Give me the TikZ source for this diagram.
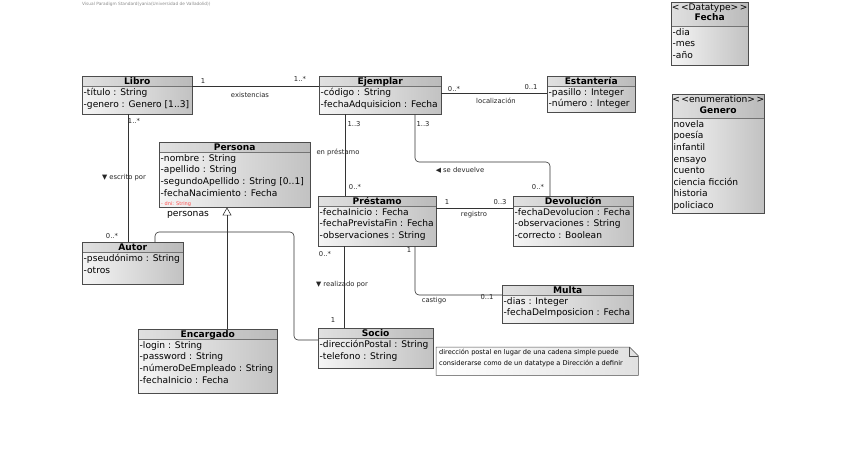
\documentclass[tikz,border=0pt]{standalone}
\usepackage{fontspec}
\setmainfont{DejaVu Sans}
\usetikzlibrary{arrows.meta,calc}

\tikzset{
  classfill/.style={left color=black!4, right color=black!24, draw=none, inner sep=0pt},
  headfill/.style={fill=black!35, fill opacity=0.25},
  border/.style={draw=black!70, line width=0.7pt},
  sepline/.style={draw=black!55, line width=0.5pt},
  titletext/.style={font=\fontsize{9.1}{10.8}\selectfont\bfseries, inner xsep=0pt, inner ysep=1.3pt, align=center},
  attrtext/.style={font=\fontsize{9.1}{11.6}\selectfont, inner xsep=1.5pt, inner ysep=2.2pt, align=left},
  assoc/.style={draw=black!80, line width=0.6pt, rounded corners=4pt},
  genline/.style={draw=black!80, line width=0.6pt, -{Triangle[open, length=8pt, width=9pt]}},
  lbl/.style={font=\fontsize{6.8}{8}\selectfont, inner sep=0pt, text=black!85},
  notetext/.style={font=\fontsize{6.6}{10.8}\selectfont, inner sep=0pt, align=left, anchor=north west},
}

\newcommand{\umlclass}[8]{%
  \node[classfill, minimum width=#4pt, minimum height=#5pt, anchor=north west] (#1) at (#2,#3) {};
  \fill[headfill] (#1.north west) rectangle ([yshift=-#6pt]#1.north east);
  \draw[sepline] ([yshift=-#6pt]#1.north west) -- ([yshift=-#6pt]#1.north east);
  \node[titletext, anchor=north] (#1-t) at (#1.north) {#7};
  \node[attrtext, anchor=north west] (#1-a) at ([yshift=-#6pt]#1.north west) {#8};
  \draw[border] (#1.north west) rectangle (#1.south east);
}

\begin{document}
\begin{tikzpicture}[x=1pt,y=-1pt]
\fill[white] (0,0) rectangle (848,468);
\useasboundingbox (0,0) rectangle (848,468);

\node[font=\fontsize{4.3}{5}\selectfont, text=black!45, anchor=west, inner sep=0pt] (vp) at (82,4) {Visual Paradigm Standard(yania(Universidad de Valladolid))};

\umlclass{libro}{82}{76}{110}{38}{10}{Libro}{-título : String\\-genero : Genero [1..3]}
\umlclass{ejemplar}{319}{76}{122}{38}{10}{Ejemplar}{-código : String\\-fechaAdquisicion : Fecha}
\umlclass{estanteria}{547}{76}{88}{36}{10}{Estantería}{-pasillo : Integer\\-número : Integer}
\umlclass{fecha}{671}{2}{77}{63}{24}{{\mdseries <\,<Datatype>\,>}\\Fecha}{-dia\\-mes\\-año}
\umlclass{genero}{672}{94}{92}{119}{24}{{\mdseries <\,<enumeration>\,>}\\Genero}{novela\\poesía\\infantil\\ensayo\\cuento\\ciencia ficción\\historia\\policiaco}
\umlclass{persona}{159}{142}{151}{65}{10}{Persona}{-nombre : String\\-apellido : String\\-segundoApellido : String [0..1]\\-fechaNacimiento : Fecha}
\node[font=\fontsize{5}{5}\selectfont, text=red!70, anchor=west, inner sep=0pt] (dni) at (161,204) {- dni: String};
\umlclass{prestamo}{318}{196}{118}{50}{10}{Préstamo}{-fechaInicio : Fecha\\-fechaPrevistaFin : Fecha\\-observaciones : String}
\umlclass{devolucion}{513}{196}{120}{50}{10}{Devolución}{-fechaDevolucion : Fecha\\-observaciones : String\\-correcto : Boolean}
\umlclass{autor}{82}{242}{101}{42}{10}{Autor}{-pseudónimo : String\\-otros}
\umlclass{multa}{502}{285}{131}{38}{10}{Multa}{-dias : Integer\\-fechaDeImposicion : Fecha}
\umlclass{encargado}{138}{329}{139}{64}{10}{Encargado}{-login : String\\-password : String\\-númeroDeEmpleado : String\\-fechaInicio : Fecha}
\umlclass{socio}{318}{328}{115}{40}{10}{Socio}{-direcciónPostal : String\\-telefono : String}

% note
\node[inner sep=0pt, minimum width=202pt, minimum height=28pt, anchor=north west] (note) at (436,347) {};
\draw[border, line width=0.5pt, left color=white, right color=black!12] (note.north west) -- ([xshift=-9pt]note.north east) -- ([yshift=-9pt]note.north east) -- (note.south east) -- (note.south west) -- cycle;
\draw[black!70, line width=0.5pt] ([xshift=-9pt]note.north east) |- ([yshift=-9pt]note.north east);
\node[notetext] (notet) at ([xshift=3pt,yshift=-2.5pt]note.north west) {dirección postal en lugar de una cadena simple puede\\considerarse como de un datatype a Dirección a definir};

% associations
\draw[assoc] ([yshift=-10pt]libro.north east) -- ([yshift=-10pt]ejemplar.north west);
\draw[assoc] ([yshift=-17pt]ejemplar.north east) -- ([yshift=-17pt]ejemplar.north east -| estanteria.west);
\coordinate (la) at ([xshift=46pt]libro.south west);
\draw[assoc] (la) -- (la |- autor.north);
\coordinate (ep) at ([xshift=26pt]ejemplar.south west);
\draw[assoc] (ep) -- (ep |- prestamo.north);
\coordinate (ed) at ([xshift=96pt]ejemplar.south west);
\coordinate (de) at ([xshift=37pt]devolucion.north west);
\draw[assoc] (ed) -- (ed |- 0,162) -- (de |- 0,162) -- (de);
\draw[assoc] ([yshift=-12pt]prestamo.north east) -- ([yshift=-12pt]devolucion.north west);
\coordinate (ps) at ([xshift=26pt]prestamo.south west);
\draw[assoc] (ps) -- (ps |- socio.north);
\coordinate (pm) at ([xshift=97pt]prestamo.south west);
\draw[assoc] (pm) |- ([yshift=-10pt]multa.north west);

% generalization
\coordinate (pg) at ([xshift=68pt]persona.south west);
\draw[genline] (pg |- encargado.north) -- (pg);
\draw[assoc] ([xshift=73pt]autor.north west) |- (pg |- 0,232);
\draw[assoc] (pg |- 0,232) -| ([xshift=-24pt,yshift=-12pt]socio.north west) -- ([yshift=-12pt]socio.north west);
\node[font=\fontsize{9.2}{11}\selectfont, inner sep=0pt] (pers) at (188,215) {personas};

% labels
\node[lbl] (l1) at (203,81) {1};
\node[lbl] (l2) at (300,79) {1..*};
\node[lbl] (l3) at (250,95) {existencias};
\node[lbl] (l4) at (454,89) {0..*};
\node[lbl] (l5) at (531,87) {0..1};
\node[lbl] (l6) at (496,101) {localización};
\node[lbl] (l7) at (134,121) {1..*};
\node[lbl] (l8) at (124,178) {▼ escrito por};
\node[lbl] (l9) at (112,236) {0..*};
\node[lbl] (l10) at (354,124) {1..3};
\node[lbl] (l11) at (338,152) {en préstamo};
\node[lbl] (l12) at (355,187) {0..*};
\node[lbl] (l13) at (423,124) {1..3};
\node[lbl] (l14) at (460,170) {◀ se devuelve};
\node[lbl] (l15) at (538,187) {0..*};
\node[lbl] (l16) at (447,202) {1};
\node[lbl] (l17) at (500,202) {0..3};
\node[lbl] (l18) at (474,215) {registro};
\node[lbl] (l19) at (325,254) {0..*};
\node[lbl] (l20) at (342,285) {▼ realizado por};
\node[lbl] (l21) at (333,320) {1};
\node[lbl] (l22) at (409,250) {1};
\node[lbl] (l23) at (434,301) {castigo};
\node[lbl] (l24) at (487,297) {0..1};
\end{tikzpicture}
\end{document}
